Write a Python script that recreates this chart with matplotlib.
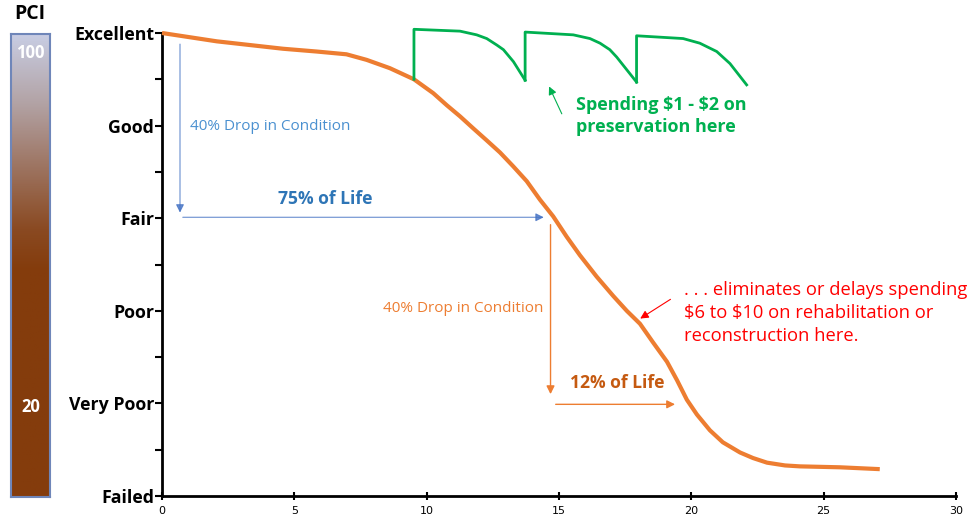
import numpy as np
import matplotlib
matplotlib.use("Agg")
import matplotlib.pyplot as plt
from matplotlib.colors import LinearSegmentedColormap

plt.rcParams['font.family'] = ['Open Sans', 'DejaVu Sans']

# ---- data ----
condition_labels = ["Failed", "Very Poor", "Poor", "Fair", "Good", "Excellent"]
condition_levels = [0, 1, 2, 3, 4, 5]
x_ticks = [0, 5, 10, 15, 20, 25, 30]

curve_x = [0.0, 2.07, 4.57, 5.84, 6.97, 7.73, 8.61, 8.99, 9.52, 10.25, 10.76, 11.26, 11.76,
           12.27, 12.77, 13.27, 13.78, 14.28, 14.78, 15.29, 15.79, 16.42, 17.05, 17.56,
           18.06, 18.55, 19.08, 19.46, 19.83, 20.21, 20.70, 21.19, 21.84, 22.33, 22.86,
           23.54, 24.10, 25.61, 27.12]
curve_y = [5.0, 4.91, 4.83, 4.80, 4.77, 4.71, 4.62, 4.57, 4.50, 4.35, 4.22, 4.10, 3.97,
           3.84, 3.71, 3.56, 3.40, 3.20, 3.02, 2.80, 2.60, 2.37, 2.16, 2.00,
           1.86, 1.66, 1.45, 1.25, 1.04, 0.88, 0.71, 0.58, 0.47, 0.41, 0.36,
           0.33, 0.32, 0.31, 0.29]

pres1_x = [9.52, 9.52, 11.26, 11.89, 12.27, 12.65, 12.90, 13.28, 13.72]
pres1_y = [4.50, 5.04, 5.02, 4.98, 4.94, 4.87, 4.82, 4.69, 4.49]
pres2_x = [13.72, 13.72, 15.54, 16.17, 16.55, 16.92, 17.18, 17.93]
pres2_y = [4.49, 5.01, 4.98, 4.94, 4.89, 4.82, 4.74, 4.47]
pres3_x = [17.93, 17.93, 19.69, 20.32, 20.96, 21.46, 22.09]
pres3_y = [4.47, 4.97, 4.94, 4.89, 4.80, 4.67, 4.44]

pci_labels = ["100", "20"]

ORANGE = "#ed7d31"
GREEN = "#00b050"
BLUE = "#4472c4"

fig = plt.figure(figsize=(9.67, 5.25), dpi=100)
ax = fig.add_axes([162/967, 1-496/525, (956-162)/967, (496-33)/525])

ax.plot(curve_x, curve_y, color=ORANGE, lw=3, solid_capstyle='butt', solid_joinstyle='round',
        clip_on=False, zorder=3)
for px, py in [(pres1_x, pres1_y), (pres2_x, pres2_y), (pres3_x, pres3_y)]:
    ax.plot(px, py, color=GREEN, lw=2, clip_on=False, zorder=3, solid_joinstyle='round')

ax.set_xlim(0, 30)
ax.set_ylim(0, 5)
ax.set_xticks(x_ticks)
ax.set_xticklabels([str(v) for v in x_ticks], fontsize=8, family=['DejaVu Sans'])
ax.set_yticks(condition_levels)
ax.set_yticklabels(condition_labels, fontsize=12.8, fontweight='bold')
ax.set_yticks([0.5, 1.5, 2.5, 3.5, 4.5], minor=True)
ax.tick_params(axis='y', which='both', direction='out', length=5, width=1.5, pad=0.5)
ax.tick_params(axis='x', which='major', direction='inout', length=6, width=1.5, pad=4)
for s in ['top', 'right']:
    ax.spines[s].set_visible(False)
for s in ['left', 'bottom']:
    ax.spines[s].set_linewidth(2)
    ax.spines[s].set_color('black')

# blue annotations
ax.annotate("", xy=(0.68, 3.03), xytext=(0.68, 4.91),
            arrowprops=dict(arrowstyle='-|>', color=BLUE, lw=0.8, mutation_scale=12, alpha=0.8))
ax.annotate("", xy=(14.53, 3.01), xytext=(0.68, 3.01),
            arrowprops=dict(arrowstyle='-|>', color=BLUE, lw=0.8, mutation_scale=12, alpha=0.8))
ax.text(1.05, 3.985, "40% Drop in Condition", color="#4a90d0", fontsize=11, va='center', ha='left')
ax.text(6.16, 3.21, "75% of Life", color="#2e75b6", fontsize=12.6, fontweight='bold', va='center', ha='center')

# orange annotations
ax.annotate("", xy=(14.68, 1.07), xytext=(14.68, 2.96),
            arrowprops=dict(arrowstyle='-|>', color=ORANGE, lw=1.0, mutation_scale=12))
ax.annotate("", xy=(19.49, 0.99), xytext=(14.77, 0.99),
            arrowprops=dict(arrowstyle='-|>', color=ORANGE, lw=1.0, mutation_scale=12))
ax.text(14.4, 2.03, "40% Drop in Condition", color=ORANGE, fontsize=11, va='center', ha='right')
ax.text(15.41, 1.22, "12% of Life", color="#c55a11", fontsize=12.6, fontweight='bold', va='center', ha='left')

# green annotation
ax.annotate("", xy=(14.58, 4.45), xytext=(15.15, 4.1),
            arrowprops=dict(arrowstyle='-|>', color=GREEN, lw=0.8, mutation_scale=12))
ax.text(15.64, 4.10, "Spending \\$1 - \\$2 on\npreservation here", color=GREEN, fontsize=13,
        fontweight='bold', va='center', ha='left', linespacing=1.3)

# red annotation
ax.annotate("", xy=(17.98, 1.9), xytext=(19.3, 2.14),
            arrowprops=dict(arrowstyle='-|>', color='red', lw=0.8, mutation_scale=12))
ax.text(19.72, 1.976, ". . . eliminates or delays spending\n\\$6 to \\$10 on rehabilitation or\nreconstruction here.",
        color='red', fontsize=13.2, va='center', ha='left', linespacing=1.36)

# PCI color bar
cax = fig.add_axes([11/967, 1-497/525, 39/967, (497-34)/525])
cmap = LinearSegmentedColormap.from_list('pci', [
    (0.0, "#843c0c"), (0.49, "#843c0c"), (0.58, "#8a4a22"), (0.72, "#9e7664"),
    (0.85, "#b2a2a4"), (1.0, "#c8cde3")])
grad = np.linspace(0, 1, 256).reshape(-1, 1)
cax.imshow(grad, aspect='auto', cmap=cmap, origin='lower', extent=[0, 1, 0, 1])
cax.set_xticks([])
cax.set_yticks([])
for s in cax.spines.values():
    s.set_color("#6f86b9")
    s.set_linewidth(1.5)
cax.text(0.5, 0.978, pci_labels[0], color='white', fontsize=12, fontweight='bold', ha='center', va='top',
         transform=cax.transAxes)
cax.text(0.5, 1-(407-34)/463, pci_labels[1], color='white', fontsize=12, fontweight='bold', ha='center',
         va='center', transform=cax.transAxes)
fig.text(30/967, 1-14/525, "PCI", fontsize=14, fontweight='bold', ha='center', va='center')

fig.savefig("out.png", dpi=100)
